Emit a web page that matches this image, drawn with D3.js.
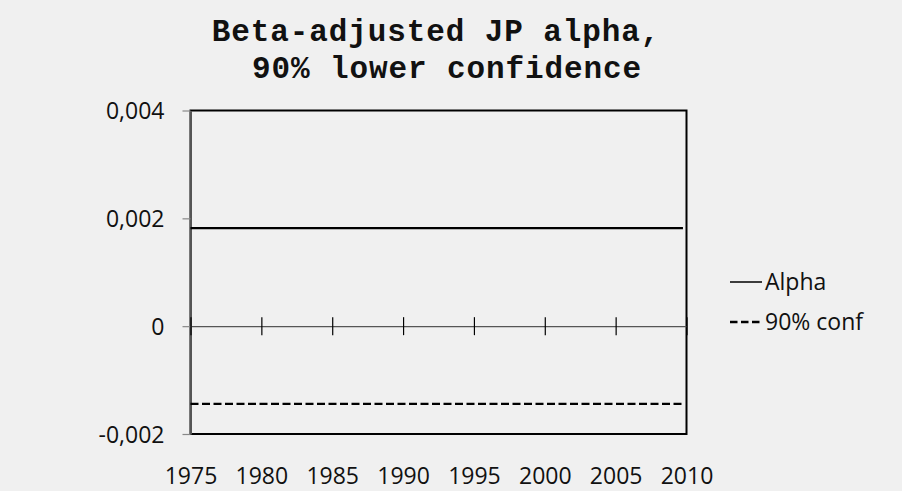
<!DOCTYPE html>
<html>
<head>
<meta charset="utf-8">
<script src="https://cdn.jsdelivr.net/npm/d3@7"></script>
<style>
  html, body { margin: 0; padding: 0; background: #f0f0f0; }
  svg { display: block; }
</style>
</head>
<body>
<div id="chart"></div>
<script>
// Series: constant beta-adjusted alpha and its 90% lower confidence bound
const years = [1975, 2009.75];
const alpha = [0.00182, 0.00182];
const conf90 = [-0.00144, -0.00144];

const titleLines = ["Beta-adjusted JP alpha,", "90% lower confidence"];
const xTicks = [1975, 1980, 1985, 1990, 1995, 2000, 2005, 2010];
const yTicks = [-0.002, 0, 0.002, 0.004];
const seriesNames = ["Alpha", "90% conf"];

const W = 902, H = 491;
const plot = { left: 190.5, right: 686.5, top: 110.5, bottom: 434 };

const svg = d3.select("#chart").append("svg")
  .attr("width", W).attr("height", H);

svg.append("rect").attr("width", W).attr("height", H).attr("fill", "#f0f0f0");

const x = d3.scaleLinear().domain([1975, 2010]).range([plot.left, plot.right]);
const y = d3.scaleLinear().domain([-0.002, 0.004]).range([plot.bottom, plot.top]);

const locale = d3.formatLocale({ decimal: ",", thousands: ".", grouping: [3], currency: ["", ""], minus: "-" });
const fmt3 = locale.format(".3f");
const yFmt = d => d === 0 ? "0" : fmt3(d);

const labelFont = "'Open Sans', 'Noto Sans', sans-serif";

// Title
const title = svg.append("g")
  .attr("font-family", "'Liberation Mono', 'Courier New', monospace")
  .attr("font-weight", "bold")
  .attr("font-size", 31)
  .attr("letter-spacing", 0.9)
  .attr("fill", "#111")
  .attr("text-anchor", "middle");
title.append("text").attr("x", 436).attr("y", 41).text(titleLines[0]);
title.append("text").attr("x", 447).attr("y", 78).text(titleLines[1]);

// Plot area border
svg.append("rect")
  .attr("x", plot.left).attr("y", plot.top)
  .attr("width", plot.right - plot.left).attr("height", plot.bottom - plot.top)
  .attr("fill", "none").attr("stroke", "#000").attr("stroke-width", 2);

// Y axis
const yAxis = svg.append("g")
  .attr("transform", `translate(${plot.left},0)`)
  .call(d3.axisLeft(y).tickValues(yTicks).tickFormat(yFmt).tickSizeInner(8).tickSizeOuter(0).tickPadding(18));
yAxis.select(".domain").attr("stroke", "#555").attr("stroke-width", 2);
yAxis.selectAll(".tick line").attr("stroke", "#888").attr("stroke-width", 1.2);
yAxis.selectAll(".tick text")
  .attr("font-family", labelFont).attr("font-size", 23).attr("fill", "#111")
  .attr("dy", "0.36em");

// Zero line with crossing ticks
const y0 = y(0);
const xAxis = svg.append("g")
  .attr("transform", `translate(0,${y0})`)
  .call(d3.axisBottom(x).tickValues(xTicks).tickFormat("").tickSizeOuter(0));
xAxis.select(".domain").attr("stroke", "#555").attr("stroke-width", 1.2);
xAxis.selectAll(".tick line")
  .attr("y1", -9).attr("y2", 9)
  .attr("stroke", "#000").attr("stroke-width", 1.2);

// Year labels along the bottom
const xLabels = svg.append("g")
  .attr("transform", `translate(0,${plot.bottom})`)
  .call(d3.axisBottom(x).tickValues(xTicks).tickFormat(d3.format("d")).tickSize(0).tickPadding(0));
xLabels.select(".domain").remove();
xLabels.selectAll(".tick text")
  .attr("font-family", labelFont).attr("font-size", 23).attr("fill", "#111")
  .attr("dy", null).attr("y", 50);

// Series lines
const line = d3.line().x(d => x(d[0])).y(d => y(d[1]));
svg.append("path")
  .datum(d3.zip(years, alpha))
  .attr("d", line).attr("fill", "none")
  .attr("stroke", "#000").attr("stroke-width", 2.3);
svg.append("path")
  .datum(d3.zip(years, conf90))
  .attr("d", line).attr("fill", "none")
  .attr("stroke", "#000").attr("stroke-width", 2.3)
  .attr("stroke-dasharray", "8,3.5");

// Legend
const legend = svg.append("g").attr("font-family", labelFont).attr("font-size", 23).attr("fill", "#111");
const legendRows = [
  { name: seriesNames[0], y: 282, dash: null, sw: 1.5 },
  { name: seriesNames[1], y: 322, dash: "7.5,3.5", sw: 2.3 }
];
legendRows.forEach(r => {
  legend.append("line")
    .attr("x1", 730).attr("x2", 762).attr("y1", r.y).attr("y2", r.y)
    .attr("stroke", "#000").attr("stroke-width", r.sw)
    .attr("stroke-dasharray", r.dash);
  legend.append("text").attr("x", 765).attr("y", r.y + 8).text(r.name);
});
</script>
</body>
</html>
